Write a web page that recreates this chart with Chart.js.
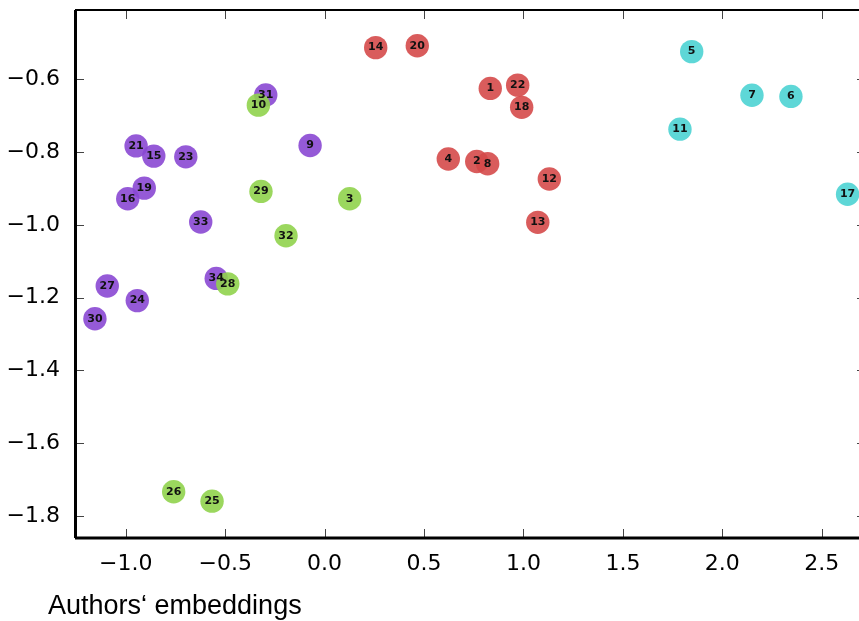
<!DOCTYPE html>
<html>
<head>
<meta charset="utf-8">
<script src="https://cdn.jsdelivr.net/npm/chart.js@4.4.1/dist/chart.umd.min.js"></script>
<style>
  body { margin: 0; background: #fff; overflow: hidden; }
  #wrap { position: relative; width: 859px; height: 621px; overflow: hidden; }
  #myChart { display: block; }
  #caption { position: absolute; left: 48px; top: 592px; font-family: "Liberation Sans", Arial, sans-serif; font-size: 27px; line-height: 27px; color: #000; white-space: nowrap; }
</style>
</head>
<body>
<div id="wrap">
  <canvas id="myChart" width="870" height="621"></canvas>
  <div id="caption">Authors‘ embeddings</div>
</div>
<script>
// node ids, embedding coordinates and community of each node
var nodeIds = [1, 2, 3, 4, 5, 6, 7, 8, 9, 10, 11, 12, 13, 14, 15, 16, 17,
               18, 19, 20, 21, 22, 23, 24, 25, 26, 27, 28, 29, 30, 31, 32, 33, 34];
var xValues = [0.833, 0.765, 0.126, 0.622, 1.846, 2.345, 2.149, 0.820, -0.073, -0.333,
               1.787, 1.130, 1.072, 0.257, -0.859, -0.990, 2.630, 0.991, -0.907, 0.466,
               -0.948, 0.971, -0.698, -0.942, -0.566, -0.759, -1.093, -0.487, -0.320, -1.155,
               -0.296, -0.194, -0.623, -0.545];
var yValues = [-0.625, -0.826, -0.928, -0.819, -0.524, -0.647, -0.644, -0.832, -0.782, -0.671,
               -0.737, -0.874, -0.993, -0.513, -0.811, -0.928, -0.916, -0.677, -0.899, -0.508,
               -0.783, -0.616, -0.813, -1.208, -1.759, -1.733, -1.168, -1.162, -0.908, -1.258,
               -0.643, -1.030, -0.992, -1.147];
var nodeGroups = ['A', 'A', 'C', 'A', 'B', 'B', 'B', 'A', 'D', 'C',
                  'B', 'A', 'A', 'A', 'D', 'D', 'B', 'A', 'D', 'A',
                  'D', 'A', 'D', 'D', 'C', 'C', 'D', 'C', 'C', 'D',
                  'D', 'C', 'D', 'D'];
// first group in the list is drawn on top
var groupOrder = ['C', 'A', 'B', 'D'];
var xTicks = [-1.0, -0.5, 0.0, 0.5, 1.0, 1.5, 2.0, 2.5];
var yTicks = [-1.8, -1.6, -1.4, -1.2, -1.0, -0.8, -0.6];

var groupColors = {
  A: 'rgba(213,74,74,0.9)',
  B: 'rgba(77,211,211,0.9)',
  C: 'rgba(144,211,77,0.9)',
  D: 'rgba(138,72,211,0.9)'
};

function fmtTick(v) {
  return Number(v).toFixed(1).replace('-', '\u2212');
}

function noPad(scale) {
  scale.paddingTop = 0;
  scale.paddingBottom = 0;
  scale.paddingLeft = 0;
  scale.paddingRight = 0;
}

var datasets = groupOrder.map(function (g) {
  var pts = [];
  for (var i = 0; i < nodeIds.length; i++) {
    if (nodeGroups[i] === g) {
      pts.push({ x: xValues[i], y: yValues[i], id: nodeIds[i] });
    }
  }
  return {
    data: pts,
    backgroundColor: groupColors[g],
    borderWidth: 0,
    pointRadius: 11.7,
    pointHoverRadius: 11.7
  };
});

// number in each circle, drawn after all circles
var nodeLabels = {
  id: 'nodeLabels',
  afterDatasetsDraw: function (chart) {
    var c = chart.ctx;
    c.save();
    c.font = 'bold 11px "DejaVu Sans"';
    c.fillStyle = '#111';
    c.textAlign = 'center';
    c.textBaseline = 'middle';
    chart.data.datasets.forEach(function (ds, i) {
      var meta = chart.getDatasetMeta(i);
      meta.data.forEach(function (pt, j) {
        c.fillText(String(ds.data[j].id), pt.x, pt.y);
      });
    });
    c.restore();
  }
};

// matplotlib style frame with inward ticks
var axesFrame = {
  id: 'axesFrame',
  afterDraw: function (chart) {
    var c = chart.ctx, a = chart.chartArea;
    var sx = chart.scales.x, sy = chart.scales.y;
    c.save();
    c.strokeStyle = '#444';
    c.lineWidth = 1;
    c.beginPath();
    sx.ticks.forEach(function (t) {
      var px = Math.round(sx.getPixelForValue(t.value)) + 0.5;
      c.moveTo(px, a.bottom); c.lineTo(px, a.bottom - 9);
      c.moveTo(px, a.top); c.lineTo(px, a.top + 9);
    });
    sy.ticks.forEach(function (t) {
      var py = Math.round(sy.getPixelForValue(t.value)) + 0.5;
      c.moveTo(a.left, py); c.lineTo(a.left + 9, py);
      c.moveTo(a.right, py); c.lineTo(a.right - 9, py);
    });
    c.stroke();
    c.strokeStyle = '#000';
    c.lineWidth = 2;
    c.beginPath();
    c.moveTo(a.left, a.top); c.lineTo(a.right, a.top);
    c.moveTo(a.right, a.top); c.lineTo(a.right, a.bottom);
    c.stroke();
    c.lineWidth = 3;
    c.beginPath();
    c.moveTo(a.left + 0.5, a.top); c.lineTo(a.left + 0.5, a.bottom);
    c.moveTo(a.left, a.bottom); c.lineTo(a.right, a.bottom);
    c.stroke();
    c.restore();
  }
};

var ctx = document.getElementById('myChart').getContext('2d');
var myChart = new Chart(ctx, {
  type: 'scatter',
  data: { datasets: datasets },
  plugins: [nodeLabels, axesFrame],
  options: {
    responsive: false,
    maintainAspectRatio: false,
    animation: false,
    events: [],
    // canvas is wider than the window: the right spine sits just past the visible edge
    layout: { autoPadding: false, padding: { top: 10, right: 4, left: 0, bottom: 0 } },
    plugins: {
      legend: { display: false },
      tooltip: { enabled: false },
      title: { display: false }
    },
    scales: {
      x: {
        type: 'linear',
        min: -1.2552,
        max: 2.7225,
        grid: { display: false },
        border: { display: false },
        afterBuildTicks: function (scale) {
          scale.ticks = xTicks.map(function (v) { return { value: v }; });
        },
        afterFit: function (scale) { scale.height = 83; noPad(scale); },
        ticks: {
          padding: 5,
          maxRotation: 0,
          autoSkip: false,
          color: '#000',
          font: { family: 'DejaVu Sans', size: 22 },
          callback: function (v) { return fmtTick(v); }
        }
      },
      y: {
        type: 'linear',
        min: -1.8602,
        max: -0.4096,
        grid: { display: false },
        border: { display: false },
        afterBuildTicks: function (scale) {
          scale.ticks = yTicks.map(function (v) { return { value: v }; });
        },
        afterFit: function (scale) { scale.width = 75; noPad(scale); },
        ticks: {
          padding: 7,
          autoSkip: false,
          color: '#000',
          font: { family: 'DejaVu Sans', size: 22 },
          callback: function (v) { return fmtTick(v); }
        }
      }
    }
  }
});
</script>
</body>
</html>
